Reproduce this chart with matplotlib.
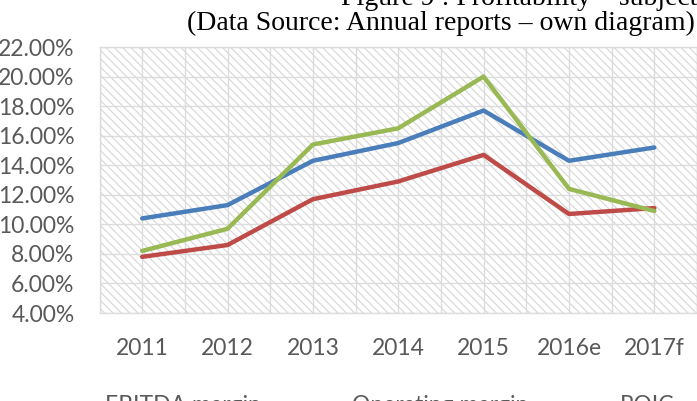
import matplotlib.pyplot as plt
from matplotlib.patches import Rectangle
from matplotlib.ticker import FuncFormatter

years = ['2011', '2012', '2013', '2014', '2015', '2016e', '2017f']
ebitda_margin = [10.4, 11.3, 14.3, 15.5, 17.7, 14.3, 15.2]
operating_margin = [7.8, 8.6, 11.7, 12.9, 14.7, 10.7, 11.1]
roic = [8.2, 9.7, 15.4, 16.5, 20.0, 12.4, 10.9]

labels = ['EBITDA margin', 'Operating margin', 'ROIC']
colors = ['#4a7ebb', '#be4b48', '#98b954']

plt.rcParams['font.family'] = ['Lato', 'DejaVu Sans']
plt.rcParams['hatch.linewidth'] = 0.8

fig = plt.figure(figsize=(6.97, 4.01), dpi=100)
ax = fig.add_axes([99.5 / 697, (401 - 313) / 401, (697 - 99.5) / 697, (313 - 47) / 401])

# hatched plot area like the Excel chart
ax.add_patch(Rectangle((0, 0), 1, 1, transform=ax.transAxes, facecolor='white',
                       edgecolor='#d6d6d6', hatch='\\' * 4, linewidth=0, zorder=0))

x = range(len(years))
for vals, lab, col in zip([ebitda_margin, operating_margin, roic], labels, colors):
    ax.plot(x, vals, color=col, linewidth=3.2, label=lab, solid_capstyle='round', zorder=3)

ax.set_xlim(-0.5, len(years) - 0.5)
ax.set_ylim(4, 22)
ax.set_yticks(range(4, 23, 2))
ax.yaxis.set_major_formatter(FuncFormatter(lambda v, p: f'{v:.2f}%'))
ax.set_xticks(list(x))
ax.set_xticklabels(years)
ax.set_xticks([i - 0.5 for i in range(len(years) + 1)], minor=True)

ax.grid(True, which='major', axis='both', color='#dcdcdc', linewidth=1.0, zorder=1)
ax.grid(True, which='minor', axis='x', color='#dcdcdc', linewidth=1.0, zorder=1)
ax.set_axisbelow(True)
for s in ax.spines.values():
    s.set_color('#dcdcdc')
    s.set_linewidth(1.0)

ax.tick_params(axis='both', which='both', length=0, labelsize=16.5, colors='#595959')
ax.tick_params(axis='x', pad=18)
ax.tick_params(axis='y', pad=18)

fig.text(1.0, 1 + 2 / 401, 'Figure 9 : Profitability \u2013 subject', ha='right', va='center',
         family='Liberation Serif', fontsize=20, color='black')
fig.text(0.997, 1 - 23 / 401, '(Data Source: Annual reports \u2013 own diagram)', ha='right',
         va='center', family='Liberation Serif', fontsize=20, color='black')

fig.legend(loc='center', bbox_to_anchor=(0.513, -5 / 401), ncol=3, frameon=False,
           fontsize=16.5, labelcolor='#595959', handlelength=2.0, columnspacing=1.2)

fig.savefig('out.png', dpi=100)
